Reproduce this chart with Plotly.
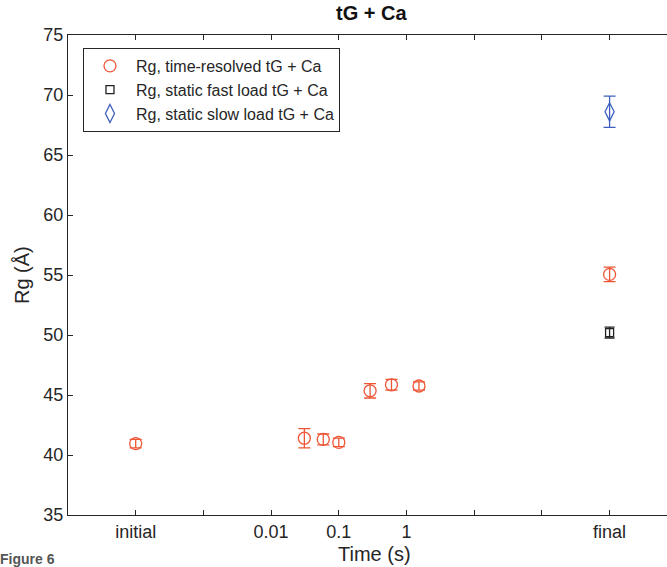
import plotly.graph_objects as go

# Time-resolved Rg (tG + Ca); "initial" plotted at 1e-4 s, "final" at 1e3 s
t_resolved = [1e-4, 0.031, 0.059, 0.10, 0.29, 0.60, 1.53, 1e3]
rg_resolved = [40.95, 41.4, 41.3, 41.05, 45.35, 45.85, 45.75, 55.05]
err_resolved = [0.35, 0.8, 0.45, 0.35, 0.6, 0.45, 0.35, 0.6]

# Static measurements, shown at the "final" position
t_fast = [1e3]
rg_fast = [50.2]
err_fast = [0.45]

t_slow = [1e3]
rg_slow = [68.6]
err_slow = [1.3]

tick_vals = [1e-4, 1e-3, 1e-2, 1e-1, 1, 10, 100, 1e3]
tick_text = ["initial", "", "0.01", "0.1", "1", "", "", "final"]

ORANGE = "#EE5535"
BLUE = "#3F5FC0"
BLACK = "#222222"
AXIS = "#262626"
FONT = "Liberation Sans, Arial, Helvetica, sans-serif"

fig = go.Figure()

fig.add_trace(go.Scatter(
    x=t_resolved, y=rg_resolved, mode="markers",
    name="Rg, time-resolved tG + Ca",
    marker=dict(symbol="circle-open", size=12, color=ORANGE, line=dict(width=1.3)),
    error_y=dict(type="data", array=err_resolved, color=ORANGE, thickness=1.3, width=6),
))
fig.add_trace(go.Scatter(
    x=t_fast, y=rg_fast, mode="markers",
    name="Rg, static fast load tG + Ca",
    marker=dict(symbol="square-open", size=8, color=BLACK, line=dict(width=1.3)),
    error_y=dict(type="data", array=err_fast, color=BLACK, thickness=1.3, width=5),
))
fig.add_trace(go.Scatter(
    x=t_slow, y=rg_slow, mode="markers",
    name="Rg, static slow load tG + Ca",
    marker=dict(symbol="diamond-tall-open", size=13, color=BLUE, line=dict(width=1.3)),
    error_y=dict(type="data", array=err_slow, color=BLUE, thickness=1.3, width=6),
))

fig.update_xaxes(
    type="log", range=[-5, 3.848],
    tickvals=tick_vals, ticktext=tick_text,
    ticks="inside", ticklen=5, tickwidth=1, tickcolor=AXIS,
    showline=True, linecolor=AXIS, linewidth=1, mirror="ticks",
    showgrid=False, zeroline=False,
    tickfont=dict(family=FONT, size=18, color=AXIS),
)
fig.update_yaxes(
    range=[35, 75], tickvals=[35, 40, 45, 50, 55, 60, 65, 70, 75],
    ticks="inside", ticklen=5, tickwidth=1, tickcolor=AXIS,
    showline=True, linecolor=AXIS, linewidth=1,
    showgrid=False, zeroline=False,
    tickfont=dict(family=FONT, size=18, color=AXIS),
)

fig.update_layout(
    width=667, height=567,
    margin=dict(l=68, r=0, t=35, b=52),
    plot_bgcolor="white", paper_bgcolor="white",
    font=dict(family=FONT, color=AXIS),
    showlegend=True,
    legend=dict(
        x=0.025, y=0.973, xanchor="left", yanchor="top",
        bgcolor="white", bordercolor=AXIS, borderwidth=1,
        font=dict(family=FONT, size=16, color=AXIS),
        itemwidth=42, tracegroupgap=0,
    ),
    annotations=[
        dict(text="<b>tG + Ca</b>", xref="paper", yref="paper",
             x=(371 - 68) / 599, y=1.0, yshift=22, xanchor="center", yanchor="middle",
             showarrow=False, font=dict(family=FONT, size=20, color="#111111")),
        dict(text="Time (s)", xref="paper", yref="paper",
             x=(374 - 68) / 599, y=0, yshift=-39, xanchor="center", yanchor="middle",
             showarrow=False, font=dict(family=FONT, size=20, color=AXIS)),
        dict(text="Rg (Å)", xref="paper", yref="paper",
             x=0, xshift=-46, y=0.5, textangle=-90, xanchor="center", yanchor="middle",
             showarrow=False, font=dict(family=FONT, size=20, color=AXIS)),
        dict(text="<b>Figure 6</b>", xref="paper", yref="paper",
             x=0, xshift=-70, y=0, yshift=-34, xanchor="left", yanchor="top",
             showarrow=False, font=dict(family=FONT, size=14, color="#555555")),
    ],
)

fig.write_html("out.html")
